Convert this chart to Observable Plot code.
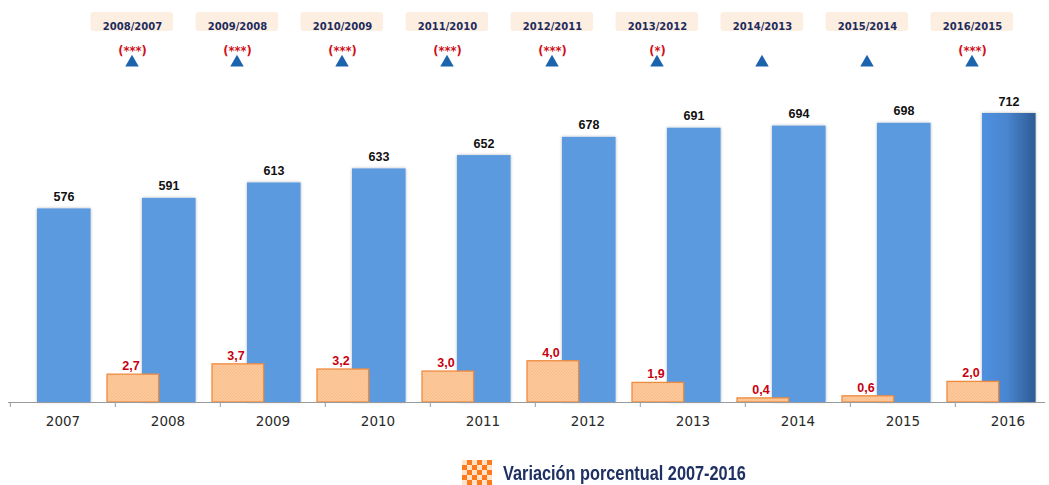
<!DOCTYPE html>
<html>
<head>
<meta charset="utf-8">
<script src="https://cdn.jsdelivr.net/npm/d3@7"></script>
<script src="https://cdn.jsdelivr.net/npm/@observablehq/plot@0.6"></script>
<style>
  html, body { margin: 0; padding: 0; background: #fff; }
  body { width: 1049px; height: 485px; overflow: hidden; position: relative; }
  #chart svg { overflow: hidden; display: block; }
  #legend { position: absolute; left: 462px; top: 460px; display: flex; align-items: center; }
  #legend .sw { width: 30px; height: 26px; box-sizing: border-box;
    background-color: #ffe3c9;
    background-image: conic-gradient(#ff7a1c 25%, #ffe3c9 0 50%, #ff7a1c 0 75%, #ffe3c9 0);
    background-size: 10px 10px; }
  #legend .tx { margin-left: 11px; font-family: "Liberation Sans", Arial, sans-serif;
    font-weight: bold; font-size: 20px; color: #1f3062; line-height: 26px;
    transform: scaleX(0.815); transform-origin: left center; white-space: nowrap; }
</style>
</head>
<body>
<div id="chart"></div>
<div id="legend"><div class="sw"></div><div class="tx">Variación porcentual 2007-2016</div></div>
<script>
// ---- data ----
const years = ["2007","2008","2009","2010","2011","2012","2013","2014","2015","2016"];
const totals = [576, 591, 613, 633, 652, 678, 691, 694, 698, 712];
const pctYears = ["2008","2009","2010","2011","2012","2013","2014","2015","2016"];
const pctValues = [2.7, 3.7, 3.2, 3.0, 4.0, 1.9, 0.4, 0.6, 2.0];
const periodLabels = ["2008/2007","2009/2008","2010/2009","2011/2010","2012/2011","2013/2012","2014/2013","2015/2014","2016/2015"];
const significance = ["(***)","(***)","(***)","(***)","(***)","(*)","","","(***)"];
const legendLabel = "Variación porcentual 2007-2016";

// ---- tables ----
const totalRows = years.map((y, i) => ({year: y, value: totals[i]}));
const pctRows = pctYears.map((y, i) => ({year: y, value: pctValues[i], period: periodLabels[i], sig: significance[i]}));

// secondary axis for percentages, mapped onto primary axis
const BASE = 300;       // primary axis minimum
const K = 14.7;         // primary-axis units per percentage point
const pctY = d => BASE + d.value * K;
const fmtPct = d => d3.format(".1f")(d.value).replace(".", ",");

const X0 = 8, X1 = 1062;
const bw = (X1 - X0) / years.length;
const frameBottom = 402;

const valueFont = "'Liberation Sans', Arial, sans-serif";
const boxFont = "'DejaVu Sans', Verdana, sans-serif";
const lastYear = years[years.length - 1];

document.querySelector("#legend .tx").textContent = legendLabel;

const plot = Plot.plot({
  width: 1049,
  height: 445,
  marginTop: 0,
  marginBottom: 445 - frameBottom,
  marginLeft: 8,
  marginRight: 4,
  x: {type: "band", domain: years, range: [X0, X1], padding: 0, label: null},
  y: {domain: [BASE, 712], range: [frameBottom, 113], axis: null},
  style: {fontFamily: boxFont, background: "#fff"},
  marks: [
    // annotation boxes
    Plot.cell(pctRows, {x: "year", fill: "#fdeee2", insetTop: 12, insetBottom: frameBottom - 31,
      insetLeft: -24.5, insetRight: 46.9, rx: 3}),
    Plot.text(pctRows, {x: "year", text: "period", frameAnchor: "top", dy: 22, dx: -35.5,
      fill: "#1d2c5c", fontWeight: "bold", fontSize: 10, fontFamily: boxFont}),
    Plot.text(pctRows, {x: "year", text: "sig", frameAnchor: "top", dy: 46, dx: -35.5,
      fill: "#d0101b", fontWeight: "bold", fontSize: 11.5, fontFamily: boxFont}),
    Plot.dot(pctRows, {x: "year", frameAnchor: "top", dy: 62, dx: -36, symbol: "triangle", r: 5,
      fill: "#1c63ad", stroke: "none"}),
    // blue bars
    Plot.barY(totalRows.filter(d => d.year !== lastYear), {x: "year", y1: BASE, y2: "value",
      fill: "#5b9ae0", insetLeft: 27, insetRight: 24.4}),
    Plot.barY(totalRows.filter(d => d.year === lastYear), {x: "year", y1: BASE, y2: "value",
      fill: "url(#g2016)", insetLeft: 27, insetRight: 24.4}),
    // orange bars
    Plot.barY(pctRows, {x: "year", y1: BASE, y2: pctY, fill: "url(#chk)", stroke: "#ee8b3f",
      strokeWidth: 1.3, insetLeft: -8, insetRight: 61.4}),
    // baseline + ticks
    Plot.ruleY([BASE], {stroke: "#9a9a9a", strokeWidth: 1.2}),
    Plot.ruleX(years, {x: d => d, dx: -bw / 2, insetTop: frameBottom, insetBottom: -5, stroke: "#9a9a9a"}),
    // value labels
    Plot.text(totalRows, {x: "year", y: "value", text: d => String(d.value), dy: -12, dx: 1,
      fill: "#111", fontWeight: "bold", fontSize: 12.5, fontFamily: valueFont}),
    Plot.text(pctRows, {x: "year", y: pctY, text: fmtPct, dy: -8.5, dx: -37,
      fill: "#c8000f", fontWeight: "bold", fontSize: 12.5, fontFamily: valueFont}),
    // x axis labels
    Plot.axisX({tickSize: 0, tickPadding: 14, fontSize: 13.5, fill: "#2a2a2a", label: null, fontFamily: boxFont})
  ]
});

document.getElementById("chart").appendChild(plot);

// defs: pattern, gradient, shadow
const svg = d3.select(plot);
const defs = svg.insert("defs", ":first-child");
const pat = defs.append("pattern").attr("id", "chk").attr("patternUnits", "userSpaceOnUse")
  .attr("width", 3).attr("height", 3);
pat.append("rect").attr("width", 3).attr("height", 3).attr("fill", "#fbbd88");
pat.append("rect").attr("width", 1.5).attr("height", 1.5).attr("fill", "#fccda3");
pat.append("rect").attr("x", 1.5).attr("y", 1.5).attr("width", 1.5).attr("height", 1.5).attr("fill", "#fccda3");
const g = defs.append("linearGradient").attr("id", "g2016").attr("x1", 0).attr("x2", 1).attr("y1", 0).attr("y2", 0);
g.append("stop").attr("offset", "0%").attr("stop-color", "#4f90e0");
g.append("stop").attr("offset", "45%").attr("stop-color", "#4a86d0");
g.append("stop").attr("offset", "100%").attr("stop-color", "#2d5b94");
const f = defs.append("filter").attr("id", "sh").attr("x", "-20%").attr("y", "-5%").attr("width", "140%").attr("height", "110%");
f.append("feDropShadow").attr("dx", 0).attr("dy", 0).attr("stdDeviation", 1.6)
  .attr("flood-color", "#000").attr("flood-opacity", 0.3);
const bars = svg.selectAll("g[aria-label='bar']").nodes();
if (bars[0]) d3.select(bars[0]).attr("filter", "url(#sh)");
if (bars[1]) d3.select(bars[1]).attr("filter", "url(#sh)");
</script>
</body>
</html>
